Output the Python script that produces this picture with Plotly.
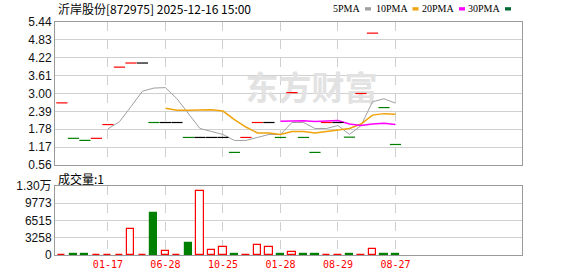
import plotly.graph_objects as go
import pandas as pd

# ---- data ----
closes = [2.68, 1.47, 1.40, 1.47, 1.94, 3.90, 4.04, 4.04, 2.01, 2.01,
          2.01, 1.50, 1.50, 1.50, 1.50, 0.99, 1.50, 2.01, 2.01, 1.50,
          3.03, 1.50, 0.99, 2.01, 2.01, 1.51, 3.00, 5.06, 2.52, 1.26]
direction = ["up", "down", "down", "up", "up", "up", "up", "flat", "down", "flat",
             "flat", "down", "flat", "flat", "flat", "down", "up", "up", "flat", "down",
             "up", "down", "down", "up", "flat", "down", "up", "up", "down", "down"]
volumes = [60, 280, 280, 60, 60, 60, 4850, 60, 8000, 760,
           60, 2320, 12090, 940, 1510, 280, 60, 1830, 1510, 150,
           570, 150, 150, 60, 60, 150, 60, 1070, 150, 150]
tick_idx = [4, 9, 14, 19, 24, 29]
tick_labels = ["01-17", "06-28", "10-25", "01-28", "08-29", "08-27"]
price_ticks = [0.56, 1.17, 1.78, 2.39, 3.00, 3.61, 4.22, 4.83, 5.44]
vol_ticks = [0, 3258, 6515, 9773, 13031]
vol_tick_text = ["0", "3258", "6515", "9773", "1.30万"]
title_text = "沂岸股份[872975] 2025-12-16 15:00"
ma_names = ["5PMA", "10PMA", "20PMA", "30PMA"]
ma_windows = [5, 10, 20, 30]

# ---- styles ----
W, H = 578, 276
L, R, T, B = 55, 56, 22, 21
RED, GREEN, BLACK = "#ff0000", "#008000", "#000000"
ma_colors = ["#a0a0a0", "#f0a30a", "#ff00ff", "#006633"]
ma_widths = [1, 1.5, 1.5, 1.5]
CJK = "Noto Sans CJK SC"

def pxx(px):
    return (px - L) / (W - L - R)

def pxy(py):
    return (H - B - py) / (H - T - B)

x = list(range(len(closes)))
fig = go.Figure()

# watermark beneath data
fig.add_trace(go.Scatter(x=[21.7], y=[3.05], mode="text", text=["<b>东方财富</b>"],
                         textfont=dict(size=33, color="#e2e2e2", family=CJK),
                         hoverinfo="skip", showlegend=False, xaxis="x", yaxis="y"))

# moving averages
s = pd.Series(closes)
for name, w, c, lw in zip(ma_names, ma_windows, ma_colors, ma_widths):
    ma = s.rolling(w).mean()
    fig.add_trace(go.Scatter(x=x, y=ma, mode="lines", line=dict(color=c, width=lw),
                             name=name, showlegend=False, xaxis="x", yaxis="y"))

# candles (open = close = high = low -> short horizontal dashes)
cmap = {"up": RED, "down": GREEN, "flat": BLACK}
for d in ["up", "down", "flat"]:
    xs = [i for i in x if direction[i] == d]
    ys = [closes[i] for i in xs]
    fig.add_trace(go.Scatter(x=xs, y=ys, mode="markers",
                             marker=dict(symbol="line-ew", size=8,
                                         line=dict(color=cmap[d], width=1.2)),
                             showlegend=False, xaxis="x", yaxis="y"))

# volume bars
fill = ["#008000" if d == "down" else "#ffffff" for d in direction]
edge = [GREEN if d == "down" else RED for d in direction]
fig.add_trace(go.Bar(x=x, y=volumes, width=0.62,
                     marker=dict(color=fill, line=dict(color=edge, width=1.2)),
                     showlegend=False, xaxis="x2", yaxis="y2"))

price_top = 1.0
price_bot = pxy(165)
vol_top = pxy(186)

axis_common = dict(showline=True, mirror=True, linecolor="#9a9a9a", linewidth=1,
                   zeroline=False, ticks="", automargin=False)
fig.update_layout(
    width=W, height=H, margin=dict(l=L, r=R, t=T, b=B, autoexpand=False),
    paper_bgcolor="white", plot_bgcolor="white", bargap=0,
    xaxis=dict(domain=[0, 1], anchor="y", range=[-0.6, 40], tickvals=tick_idx,
               showticklabels=False, showgrid=True, gridcolor="#cfcfcf",
               griddash="dash", gridwidth=1, **axis_common),
    yaxis=dict(domain=[price_bot, price_top], anchor="x", range=[0.56, 5.44],
               tickvals=price_ticks, ticktext=[f"{v:.2f}" for v in price_ticks],
               showgrid=True, gridcolor="#d0d0d0", gridwidth=1,
               tickfont=dict(family="Liberation Sans", size=12, color="#111"),
               **axis_common),
    xaxis2=dict(domain=[0, 1], anchor="y2", matches="x", range=[-0.6, 40],
                tickvals=tick_idx, ticktext=tick_labels, showgrid=True,
                gridcolor="#cfcfcf", griddash="dash", gridwidth=1,
                tickfont=dict(family="DejaVu Sans Mono", size=10, color="#ff0000"),
                **axis_common),
    yaxis2=dict(domain=[0, vol_top], anchor="x2", range=[0, 13031],
                tickvals=vol_ticks, ticktext=vol_tick_text, showgrid=True,
                gridcolor="#d0d0d0", gridwidth=1,
                tickfont=dict(family="Liberation Sans, " + CJK, size=12, color="#111"),
                **axis_common),
)

annotations = [
    dict(x=pxx(56), y=pxy(9), xref="paper", yref="paper", text=title_text,
         showarrow=False, xanchor="left", yanchor="middle",
         font=dict(family=CJK, size=12, color="#000")),
    dict(x=pxx(56), y=pxy(178), xref="paper", yref="paper", text="成交量:1",
         showarrow=False, xanchor="left", yanchor="middle",
         font=dict(family=CJK, size=12, color="#000")),
]
shapes = []
sq_left = [365, 412.5, 459, 505]
for name, c, sx in zip(ma_names, ma_colors, sq_left):
    annotations.append(dict(x=pxx(sx - 3), y=pxy(9), xref="paper", yref="paper",
                            text=name, showarrow=False, xanchor="right",
                            yanchor="middle",
                            font=dict(family="Liberation Serif", size=10, color="#000")))
    shapes.append(dict(type="rect", xref="paper", yref="paper",
                       x0=pxx(sx), x1=pxx(sx + 6), y0=pxy(10.5), y1=pxy(7.2),
                       fillcolor=c, line=dict(width=0)))
fig.update_layout(annotations=annotations, shapes=shapes)

fig.write_html("out.html")
